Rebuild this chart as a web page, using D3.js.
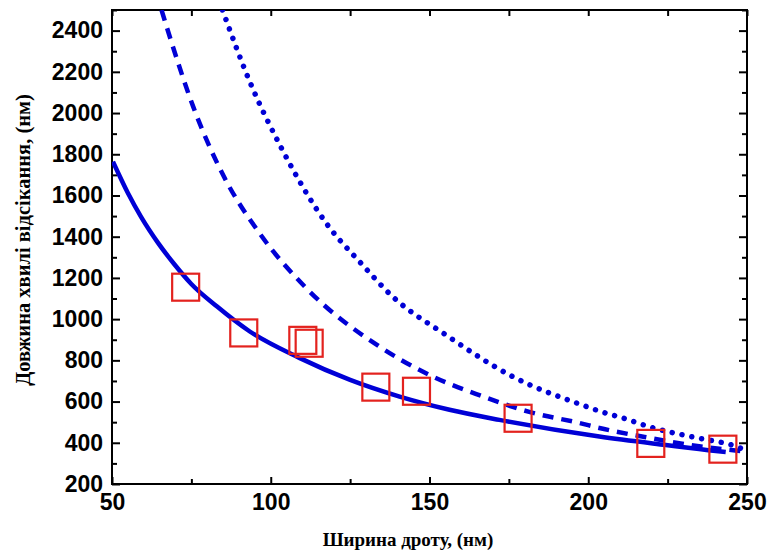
<!DOCTYPE html>
<html><head><meta charset="utf-8">
<script src="https://cdn.jsdelivr.net/npm/d3@7/dist/d3.min.js"></script>
<style>body{margin:0;background:#fff}</style>
</head><body>
<svg id="chart" width="769" height="553"></svg>
<script>
// ---- data ----
const solidX = [50.3, 55, 59.2, 64.5, 69.7, 74.9, 83, 93.4, 109, 125, 140.6, 156.3, 172, 203.5, 224.4, 240.2, 243.3];
const solidY = [1764, 1612, 1495, 1370, 1265, 1172, 1062, 940, 812, 705, 624, 560, 511, 430, 389, 360, 355];

const dashedX = [65.6, 68.2, 75.6, 85.0, 96.5, 111.2, 134.3, 150, 165.7, 181.4, 197.2, 203.5, 219.2, 234.9, 249.6, 251];
const dashedY = [2500, 2370, 2030, 1699, 1416, 1150, 866, 729, 631, 550, 496, 472, 424, 383, 357, 354];

const dottedX = [84.8, 93.4, 103.4, 117.5, 128.5, 138.4, 155.2, 176.2, 197.2, 203.5, 212.0, 219.2, 234.9, 245.3, 249.7, 251];
const dottedY = [2500, 2152, 1829, 1465, 1270, 1109, 923, 721, 588, 554, 515, 478, 422, 389, 365, 360];

const expX = [73.2, 91.5, 110.1, 112.1, 133.1, 145.9, 177.9, 219.7, 242.4];
const expY = [1155, 933, 897, 883, 670, 650, 519, 397, 369];

const xTicks = [50, 100, 150, 200, 250];
const xMinor = [75, 125, 175, 225];
const yTicks = [200, 400, 600, 800, 1000, 1200, 1400, 1600, 1800, 2000, 2200, 2400];
const yMinor = [300, 500, 700, 900, 1100, 1300, 1500, 1700, 1900, 2100, 2300, 2500];
const xTitle = "Ширина дроту, (нм)";
const yTitle = "Довжина хвилі відсікання, (нм)";

// ---- layout ----
const W = 769, H = 553;
const m = {left: 112, top: 10, right: 22, bottom: 69};
const iw = W - m.left - m.right, ih = H - m.top - m.bottom;

const svg = d3.select("#chart");
const g = svg.append("g").attr("transform", `translate(${m.left},${m.top})`);

const x = d3.scaleLinear().domain([50, 250]).range([0, iw]);
const y = d3.scaleLinear().domain([200, 2500]).range([ih, 0]);

const BLUE = "#0000d6", RED = "#e3221e";

svg.append("defs").append("clipPath").attr("id", "clip")
  .append("rect").attr("width", iw).attr("height", ih);

const tickFont = "'Liberation Sans', Arial, sans-serif";
function styleAxis(sel) {
  sel.selectAll(".domain").remove();
  sel.selectAll("line").attr("stroke", "#000").attr("stroke-width", 2);
  sel.selectAll("text").attr("fill", "#000")
    .style("font-family", tickFont).style("font-weight", "bold").style("font-size", "23px");
}

// major & minor ticks, inward
g.append("g").attr("transform", `translate(0,${ih})`)
  .call(d3.axisBottom(x).tickValues(xTicks).tickFormat(d3.format("d")).tickSizeInner(-7).tickSizeOuter(0).tickPadding(10))
  .call(styleAxis);
g.append("g").attr("transform", `translate(0,${ih})`)
  .call(d3.axisBottom(x).tickValues(xMinor).tickFormat("").tickSizeInner(-5).tickSizeOuter(0))
  .call(styleAxis);
g.append("g")
  .call(d3.axisTop(x).tickValues(xTicks.concat(xMinor)).tickFormat("").tickSizeInner(-6).tickSizeOuter(0))
  .call(styleAxis);

g.append("g")
  .call(d3.axisLeft(y).tickValues(yTicks).tickFormat(d3.format("d")).tickSizeInner(-8).tickSizeOuter(0).tickPadding(9))
  .call(styleAxis);
g.append("g")
  .call(d3.axisLeft(y).tickValues(yMinor).tickFormat("").tickSizeInner(-5).tickSizeOuter(0))
  .call(styleAxis);
g.append("g").attr("transform", `translate(${iw},0)`)
  .call(d3.axisRight(y).tickValues(yTicks).tickFormat("").tickSizeInner(-8).tickSizeOuter(0))
  .call(styleAxis);
g.append("g").attr("transform", `translate(${iw},0)`)
  .call(d3.axisRight(y).tickValues(yMinor).tickFormat("").tickSizeInner(-5).tickSizeOuter(0))
  .call(styleAxis);

// frame
g.append("rect").attr("width", iw).attr("height", ih)
  .attr("fill", "none").attr("stroke", "#000").attr("stroke-width", 2);

// curves
const line = d3.line().x(d => x(d[0])).y(d => y(d[1])).curve(d3.curveMonotoneX);
const plot = g.append("g").attr("clip-path", "url(#clip)");

plot.append("path").datum(dottedX.map((v, i) => [v, dottedY[i]]))
  .attr("d", line).attr("fill", "none").attr("stroke", BLUE)
  .attr("stroke-width", 5.5).attr("stroke-linecap", "round").attr("stroke-dasharray", "0.01,10");

plot.append("path").datum(dashedX.map((v, i) => [v, dashedY[i]]))
  .attr("d", line).attr("fill", "none").attr("stroke", BLUE)
  .attr("stroke-width", 4.5).attr("stroke-dasharray", "11,8");

plot.append("path").datum(solidX.map((v, i) => [v, solidY[i]]))
  .attr("d", line).attr("fill", "none").attr("stroke", BLUE)
  .attr("stroke-width", 4.5);

// experimental squares
const S = 27;
g.append("g").selectAll("rect").data(expX.map((v, i) => [v, expY[i]])).join("rect")
  .attr("x", d => x(d[0]) - S / 2).attr("y", d => y(d[1]) - S / 2)
  .attr("width", S).attr("height", S)
  .attr("fill", "none").attr("stroke", RED).attr("stroke-width", 2.2);

// titles
const titleFont = "'Liberation Serif', 'Times New Roman', serif";
svg.append("text").text(xTitle)
  .attr("x", 408).attr("y", 546).attr("text-anchor", "middle")
  .style("font-family", titleFont).style("font-weight", "bold").style("font-size", "19px");
svg.append("text").text(yTitle)
  .attr("transform", "translate(30,240) rotate(-90)").attr("text-anchor", "middle")
  .style("font-family", titleFont).style("font-weight", "bold").style("font-size", "20.5px");
</script>
</body></html>
